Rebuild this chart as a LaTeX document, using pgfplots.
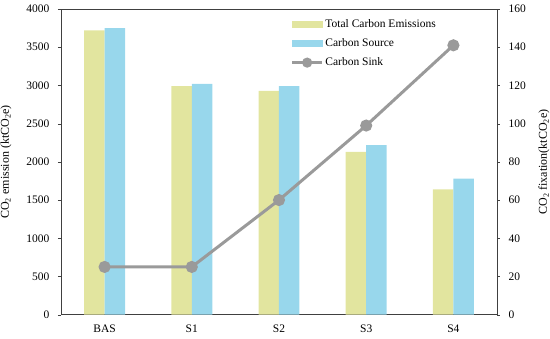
\documentclass[border=0pt]{standalone}
\usepackage{pgfplots}
\pgfplotsset{compat=1.18}
\usepackage{fontspec}
\setmainfont{Liberation Serif}
\definecolor{tce}{HTML}{E2E59F}
\definecolor{cs}{HTML}{98D7EC}
\definecolor{sink}{HTML}{9A9A9A}
\begin{document}
\begin{tikzpicture}
\pgfplotsset{every axis/.append style={scale only axis, width=436pt, height=305.7pt, xmin=-0.5, xmax=4.5,
  font=\fontsize{11.5}{13}\selectfont, /pgf/number format/assume math mode=true,
  tick style={draw=black!75}, axis line style={draw=black!75, line width=0.8pt},
  tick align=outside, major tick length=3pt}}
\useasboundingbox (-61pt,-24.3pt) rectangle (489pt,314.7pt);
\begin{axis}[
  ymin=0, ymax=4000, ytick={0,500,...,4000},
  ytick pos=left, xtick pos=bottom,
  xtick={0,1,2,3,4}, xticklabels={BAS,S1,S2,S3,S4},
  x tick style={draw=none},
  scaled y ticks=false,
  /pgf/number format/set thousands separator={},
  yticklabel style={xshift=-5pt},
  xticklabel style={yshift=-4pt},
  ylabel={CO\textsubscript{2} emission (ktCO\textsubscript{2}e)},
  ylabel style={at={(rel axis cs:0,0.5)}, anchor=south, yshift=46pt, font=\fontsize{12}{14}\selectfont},
  ybar, bar width=0.235,
]
\addplot[fill=tce, draw=none, bar shift=-0.1175] coordinates {(0,3720) (1,2990) (2,2930) (3,2130) (4,1640)};
\addplot[fill=cs, draw=none, bar shift=0.1175] coordinates {(0,3750) (1,3020) (2,2990) (3,2220) (4,1780)};
\end{axis}
\begin{axis}[
  ymin=0, ymax=160, ytick={0,20,...,160},
  axis y line*=right, axis x line=none,
  yticklabel style={xshift=5pt},
  ylabel={CO\textsubscript{2} fixation(ktCO\textsubscript{2}e)},
  ylabel style={at={(rel axis cs:1,0.5)}, anchor=north, yshift=-38pt, font=\fontsize{12}{14}\selectfont},
  legend style={draw=none, fill=none, at={(0.52,0.978)}, anchor=north west, row sep=5.5pt,
    font=\fontsize{11.5}{13}\selectfont},
  legend cell align=left,
]
\addlegendimage{legend image code/.code={\fill[tce] (0pt,-3pt) rectangle (30pt,3pt);}}
\addlegendentry{Total Carbon Emissions}
\addlegendimage{legend image code/.code={\fill[cs] (0pt,-3pt) rectangle (30pt,3pt);}}
\addlegendentry{Carbon Source}
\addplot[sink, line width=3pt, mark=*, mark size=4.5pt, mark options={fill=sink, draw=sink},
  legend image code/.code={\draw[sink, line width=2.5pt] (0pt,0pt) -- (30pt,0pt); \fill[sink] (15pt,0pt) circle (3.5pt);}]
  coordinates {(0,25) (1,25) (2,60) (3,99) (4,141)};
\addlegendentry{Carbon Sink}
\end{axis}
\end{tikzpicture}
\end{document}
